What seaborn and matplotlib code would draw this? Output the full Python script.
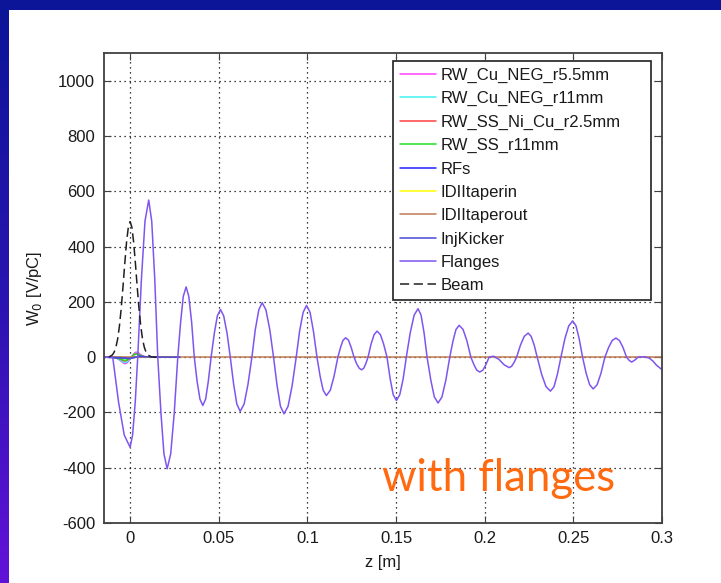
import numpy as np
import pandas as pd
import matplotlib
matplotlib.use("Agg")
import matplotlib.pyplot as plt
from matplotlib.patches import Rectangle
from matplotlib.colors import LinearSegmentedColormap
import seaborn as sns

# ---------------- data ----------------
series_names = ["RW_Cu_NEG_r5.5mm", "RW_Cu_NEG_r11mm", "RW_SS_Ni_Cu_r2.5mm",
                "RW_SS_r11mm", "RFs", "IDIItaperin", "IDIItaperout",
                "InjKicker", "Flanges", "Beam"]
series_colors = ["#ff40ff", "#40f0f0", "#ff4040", "#20e020", "#2020ff",
                 "#ffff00", "#c07a50", "#4848d8", "#7f55f0", "#202020"]

z_rw = [-0.015, -0.010, -0.008, -0.006, -0.004, -0.003, -0.002, 0.000, 0.001,
        0.002, 0.003, 0.004, 0.005, 0.006, 0.008, 0.010, 0.015]
w_rw_cu55 = [0, 0, -3, -10, -20, -24, -22, -8, 2, 12, 17, 18, 14, 8, 2, 0, 0]
w_rw_cu11 = [0, 0, -3, -9, -17, -20, -18, -6, 2, 10, 14, 15, 11, 6, 1, 0, 0]
w_rw_ss25 = [0, 0, -2, -6, -12, -14, -12, -4, 2, 8, 12, 13, 10, 5, 1, 0, 0]
w_rw_ss11 = [0, 0, -2, -5, -10, -12, -10, -3, 1, 7, 10, 11, 8, 4, 1, 0, 0]

z_small = [-0.015, -0.005, 0.0, 0.005, 0.010, 0.020, 0.028]
w_rfs = [0, -3, -5, 3, 1, 0, 0]
w_taperin = [0, -1, -2, 1, 0, 0, 0]
w_injkicker = [0, -2, -4, 2, 1, 0, 0]

z_taperout = [-0.015, 0.300]
w_taperout = [0, 0]

z_flanges = [
    -0.0150, -0.0098, -0.0065, -0.0033, 0.0000,
    0.0014, 0.0029, 0.0043,
    0.0064, 0.0084, 0.0105,
    0.0122, 0.0139, 0.0156,
    0.0174, 0.0191, 0.0209,
    0.0229, 0.0249, 0.0269,
    0.0285, 0.0300, 0.0316,
    0.0331, 0.0347, 0.0362,
    0.0378, 0.0394, 0.0410,
    0.0426, 0.0441, 0.0457,
    0.0475, 0.0492, 0.0510,
    0.0528, 0.0547, 0.0565,
    0.0584, 0.0602, 0.0621,
    0.0643, 0.0665, 0.0687,
    0.0706, 0.0726, 0.0745,
    0.0766, 0.0788, 0.0809,
    0.0829, 0.0848, 0.0868,
    0.0891, 0.0914, 0.0937,
    0.0956, 0.0976, 0.0995,
    0.1015, 0.1034, 0.1054,
    0.1072, 0.1089, 0.1107,
    0.1129, 0.1150, 0.1172,
    0.1187, 0.1201, 0.1216,
    0.1232, 0.1247, 0.1263,
    0.1277, 0.1292, 0.1306,
    0.1318, 0.1330, 0.1342,
    0.1359, 0.1376, 0.1393,
    0.1412, 0.1430, 0.1449,
    0.1467, 0.1484, 0.1502,
    0.1521, 0.1540, 0.1558,
    0.1580, 0.1602, 0.1624,
    0.1641, 0.1658, 0.1675,
    0.1696, 0.1716, 0.1737,
    0.1759, 0.1781, 0.1803,
    0.1821, 0.1838, 0.1856,
    0.1878, 0.1900, 0.1922,
    0.1939, 0.1955, 0.1972,
    0.1990, 0.2007, 0.2025,
    0.2038, 0.2051,
    0.2080, 0.2110, 0.2138,
    0.2152, 0.2166, 0.2180,
    0.2202, 0.2223, 0.2245,
    0.2262, 0.2279, 0.2296,
    0.2321, 0.2346, 0.2371,
    0.2391, 0.2410, 0.2430,
    0.2452, 0.2474, 0.2496,
    0.2515, 0.2533, 0.2552,
    0.2572, 0.2592, 0.2612,
    0.2634, 0.2656, 0.2678,
    0.2699, 0.2719, 0.2740,
    0.2760, 0.2780, 0.2800,
    0.2815, 0.2829,
    0.2848, 0.2866,
    0.2885, 0.2904,
    0.2929, 0.2950, 0.2970, 0.3000]
w_flanges = [
    0, 0, -163, -282, -326,
    -282, -163, 0,
    284, 492, 568,
    492, 284, 0,
    -202, -350, -404,
    -350, -202, 0,
    127, 220, 254,
    220, 127, 0,
    -88, -152, -175,
    -152, -88, 0,
    86, 149, 172,
    149, 86, 0,
    -98, -170, -196,
    -170, -98, 0,
    99, 171, 197,
    171, 99, 0,
    -103, -178, -205,
    -178, -103, 0,
    94, 162, 187,
    162, 94, 0,
    -70, -120, -139,
    -120, -70, 0,
    35, 61, 70,
    61, 35, 0,
    -23, -40, -46,
    -40, -23, 0,
    47, 81, 94,
    81, 47, 0,
    -79, -136, -157,
    -136, -79, 0,
    88, 152, 175,
    152, 88, 0,
    -83, -144, -166,
    -144, -83, 0,
    58, 100, 115,
    100, 58, 0,
    -27, -47, -54,
    -47, -27, 0,
    2, 3,
    -8, -28, -38,
    -33, -19, 0,
    44, 75, 87,
    75, 44, 0,
    -62, -107, -123,
    -107, -62, 0,
    66, 113, 131,
    113, 66, 0,
    -58, -100, -115,
    -100, -58, 0,
    35, 60, 69,
    60, 35, 0,
    -12, -18,
    -10, 0,
    1, 1,
    -4, -15, -30, -45]

z_beam = [-0.012, -0.011, -0.010, -0.009, -0.008, -0.007, -0.006, -0.005, -0.004,
          -0.003, -0.002, -0.001, 0.000, 0.001, 0.002, 0.003, 0.004, 0.005,
          0.006, 0.007, 0.008, 0.009, 0.010, 0.011, 0.012, 0.014, 0.015]
w_beam = [0, 4, 8, 18, 36, 66, 113, 177, 255, 339, 416, 470, 490, 470, 416,
          339, 255, 177, 113, 66, 36, 18, 8, 4, 1, 0, 0]

x_ticks = [0, 0.05, 0.1, 0.15, 0.2, 0.25, 0.3]
x_tick_labels = ["0", "0.05", "0.1", "0.15", "0.2", "0.25", "0.3"]
y_ticks = [-600, -400, -200, 0, 200, 400, 600, 800, 1000]

assert len(z_flanges) == len(w_flanges)
assert len(z_beam) == len(w_beam)

series_data = [
    (z_rw, w_rw_cu55), (z_rw, w_rw_cu11), (z_rw, w_rw_ss25), (z_rw, w_rw_ss11),
    (z_small, w_rfs), (z_small, w_taperin), (z_taperout, w_taperout),
    (z_small, w_injkicker), (z_flanges, w_flanges), (z_beam, w_beam)]

# ---------------- figure ----------------
sns.set_style("ticks")
plt.rcParams["font.family"] = ["Liberation Sans", "DejaVu Sans"]

W, H = 721, 583
fig = plt.figure(figsize=(W / 100, H / 100), dpi=100)
fig.patch.set_facecolor("white")

# slide decoration: top band and left gradient band
fig.patches.append(Rectangle((0, 1 - 10 / H), 1, 10 / H, transform=fig.transFigure,
                             facecolor="#0c1598", edgecolor="none", zorder=0))
band_ax = fig.add_axes([0, 0, 9 / W, 1 - 10 / H])
grad = np.linspace(0, 1, 256).reshape(-1, 1)
cmap = LinearSegmentedColormap.from_list("band", ["#0c1598", "#2a14b0", "#6212d8"])
band_ax.imshow(grad, aspect="auto", cmap=cmap, extent=[0, 1, 0, 1], origin="upper")
band_ax.set_axis_off()

left, right, top, bottom = 103.5, 662, 53, 523
ax = fig.add_axes([left / W, 1 - bottom / H, (right - left) / W, (bottom - top) / H])

for name, color, (zz, ww) in zip(series_names, series_colors, series_data):
    df = pd.DataFrame({"z": zz, "W": ww})
    sns.lineplot(data=df, x="z", y="W", ax=ax, color=color, lw=1.1,
                 label=name, estimator=None, sort=False)
    if name == "Beam":
        ax.lines[-1].set_dashes([6, 3])

ax.set_xlim(-0.015, 0.3)
ax.set_ylim(-600, 1100)
ax.set_xticks(x_ticks)
ax.set_xticklabels(x_tick_labels)
ax.set_yticks(y_ticks)
ax.set_yticklabels([str(v) for v in y_ticks])
ax.tick_params(direction="in", length=5, width=0.8, color="#404040",
               labelsize=12, labelcolor="#1a1a1a", top=True, right=True,
               pad=6)
ax.grid(True, color="black", linestyle=(0, (1, 3)), linewidth=0.9)
for sp in ax.spines.values():
    sp.set_color("#404040")
    sp.set_linewidth(1.3)
    sp.set_visible(True)

ax.set_xlabel("z [m]", fontsize=12, color="#1a1a1a", labelpad=6)
ax.set_ylabel("W$_0$ [V/pC]", fontsize=12, color="#1a1a1a", labelpad=10)

leg = ax.legend(loc="upper left",
                bbox_to_anchor=(393 / W, 1 - 297 / H, 258 / W, 236 / H),
                bbox_transform=fig.transFigure, mode="expand", fontsize=12,
                frameon=True, fancybox=False, framealpha=1, edgecolor="#202020",
                borderaxespad=0, labelspacing=0.5, handlelength=2.2,
                handletextpad=0.25, borderpad=0.4)
leg.get_frame().set_linewidth(1.2)
for t in leg.get_texts():
    t.set_color("#1a1a1a")

fig.text(382 / W, 1 - 491 / H, "with flanges", color="#ff6a10", fontsize=31.5,
         family=["Lato", "DejaVu Sans"], ha="left", va="baseline")

fig.savefig("out.png", dpi=100)
